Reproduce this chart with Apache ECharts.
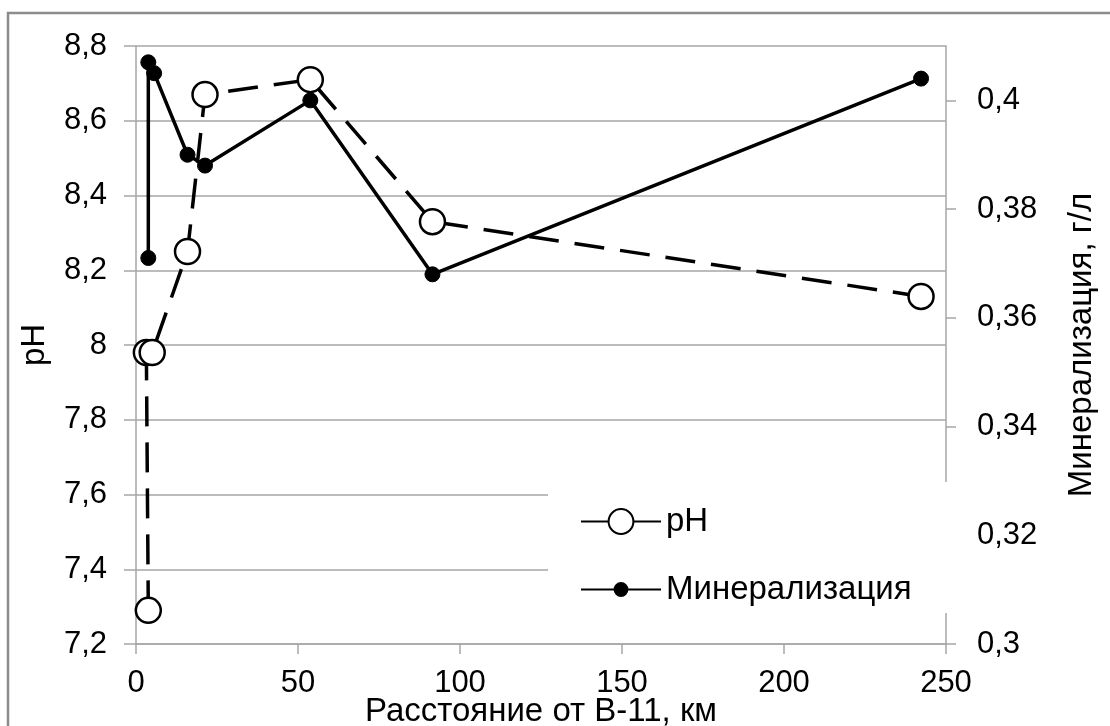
<!DOCTYPE html>
<html>
<head>
<meta charset="utf-8">
<script src="https://cdn.jsdelivr.net/npm/echarts@6/dist/echarts.min.js"></script>
<style>
html, body { margin: 0; padding: 0; background: #fff; }
#chart { width: 1110px; height: 726px; }
</style>
</head>
<body>
<div id="chart"></div>
<script>
// расстояние от В-11, км
var phDist = [3.8, 3.2, 5.0, 15.9, 21.3, 53.8, 91.5, 242.3];
var phValues = [7.29, 7.98, 7.98, 8.25, 8.67, 8.71, 8.33, 8.13];

var minDist = [3.8, 3.8, 5.6, 15.9, 21.3, 53.8, 91.5, 242.3];
var minValues = [0.371, 0.407, 0.405, 0.390, 0.388, 0.400, 0.368, 0.404];

var seriesNames = ['pH', 'Минерализация'];
var xTitle = 'Расстояние от В-11, км';
var yLeftTitle = 'pH';
var yRightTitle = 'Минерализация, г/л';

var chart = echarts.init(document.getElementById('chart'));
var FONT = 'Liberation Sans';
var GRAY = '#a6a6a6';
var TICK_FS = 31;
var TITLE_FS = 33;

function pairs(xs, ys) {
    var out = [];
    for (var i = 0; i < xs.length; i++) {
        out.push([xs[i], ys[i]]);
    }
    return out;
}

// 7.2 -> "7,2", 8 -> "8"
function commaFmt(digits) {
    return function(v) {
        return String(parseFloat(v.toFixed(digits))).replace('.', ',');
    };
}

function legendBox(name, top, h) {
    return {
        orient: 'vertical',
        left: 580,
        top: top,
        padding: 0,
        itemWidth: 80,
        itemHeight: h,
        textStyle: { fontFamily: FONT, fontSize: TITLE_FS, color: '#000' },
        data: [{ name: name, lineStyle: { type: 'solid' } }]
    };
}

chart.setOption({
    animation: false,
    backgroundColor: '#fff',
    textStyle: { fontFamily: FONT, color: '#000' },
    graphic: [{
        type: 'rect',
        shape: { x: 8, y: 13, width: 1200, height: 800 },
        style: { fill: 'none', stroke: '#8c8c8c', lineWidth: 2.5 },
        silent: true
    }, {
        // белая подложка легенды
        type: 'rect',
        z: 3,
        shape: { x: 548, y: 482, width: 414, height: 131 },
        style: { fill: '#fff' },
        silent: true
    }],
    grid: { left: 136, right: 164, top: 46, bottom: 82, outerBoundsMode: 'none' },
    legend: [
        legendBox(seriesNames[0], 505, 31),
        legendBox(seriesNames[1], 573, 16)
    ],
    xAxis: {
        type: 'value',
        min: 0,
        max: 250,
        interval: 50,
        name: xTitle,
        nameLocation: 'middle',
        nameGap: 51,
        nameMoveOverlap: false,
        nameTextStyle: { fontFamily: FONT, fontSize: TITLE_FS, color: '#000' },
        axisLine: { lineStyle: { color: GRAY, width: 1.5 } },
        axisTick: { show: true, inside: false, length: 10, lineStyle: { color: GRAY, width: 1.5 } },
        axisLabel: { margin: 24, fontFamily: FONT, fontSize: TICK_FS, color: '#000' },
        splitLine: { show: false }
    },
    yAxis: [{
        type: 'value',
        position: 'left',
        min: 7.2,
        max: 8.8,
        interval: 0.2,
        name: yLeftTitle,
        nameLocation: 'middle',
        nameGap: 85,
        nameMoveOverlap: false,
        nameTextStyle: { fontFamily: FONT, fontSize: TITLE_FS, color: '#000' },
        axisLine: { show: true, lineStyle: { color: GRAY, width: 1.5 } },
        axisTick: { show: true, inside: false, length: 12, lineStyle: { color: GRAY, width: 1.5 } },
        axisLabel: { margin: 29, fontFamily: FONT, fontSize: TICK_FS, color: '#000', formatter: commaFmt(1) },
        splitLine: { show: true, lineStyle: { color: GRAY, width: 1.5 } }
    }, {
        type: 'value',
        position: 'right',
        min: 0.3,
        max: 0.41,
        interval: 0.02,
        name: yRightTitle,
        nameLocation: 'middle',
        nameGap: 119,
        nameRotate: 90,
        nameMoveOverlap: false,
        nameTextStyle: { fontFamily: FONT, fontSize: TITLE_FS, color: '#000' },
        axisLine: { show: true, lineStyle: { color: GRAY, width: 1.5 } },
        axisTick: { show: true, inside: false, length: 10, lineStyle: { color: GRAY, width: 1.5 } },
        axisLabel: { margin: 31, fontFamily: FONT, fontSize: TICK_FS, color: '#000', showMaxLabel: false, formatter: commaFmt(2) },
        splitLine: { show: false }
    }],
    series: [{
        name: seriesNames[0],
        type: 'line',
        yAxisIndex: 0,
        data: pairs(phDist, phValues),
        symbol: 'circle',
        symbolSize: 25,
        lineStyle: { color: '#000', width: 3.5, type: [30, 16] },
        itemStyle: { color: '#fff', borderColor: '#000', borderWidth: 2.5 }
    }, {
        name: seriesNames[1],
        type: 'line',
        yAxisIndex: 1,
        data: pairs(minDist, minValues),
        symbol: 'circle',
        symbolSize: 15,
        lineStyle: { color: '#000', width: 3.5 },
        itemStyle: { color: '#000', borderColor: '#000', borderWidth: 1 }
    }]
});
</script>
</body>
</html>
